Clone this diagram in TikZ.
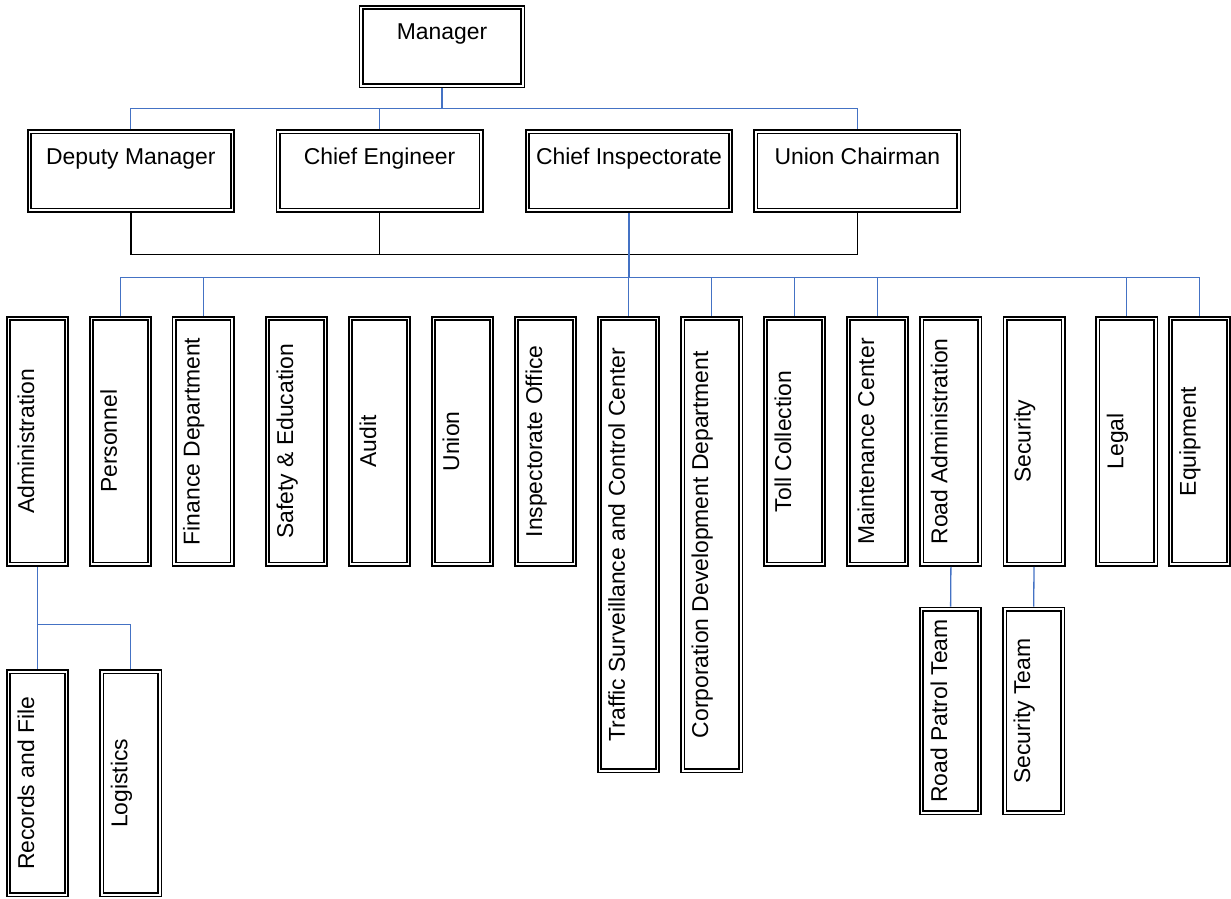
\documentclass[tikz,border=0pt]{standalone}
\usepackage{fontspec}
\setmainfont{Liberation Sans}
\usepackage{tikz}
\usepackage{xcolor}
\definecolor{orgblue}{RGB}{68,114,196}

\begin{document}
\begin{tikzpicture}[x=1pt, y=-1pt,
    unitbox/.style={draw, double, line width=1.7pt, double distance=1.6pt,
        inner sep=0pt, outer sep=2.5pt, font=\fontsize{22.9pt}{27pt}\selectfont},
    hbox/.style={unitbox, text height=32.5pt, text depth=46pt},
    vbox/.style={unitbox, rotate=90, text height=25.5pt, text depth=32.5pt},
    blueline/.style={draw=orgblue, line width=1.3pt},
    blackline/.style={draw=black, line width=1.5pt}]
    \useasboundingbox (0,0) rectangle (1231,899);

    % Draw the top boxes
    \node[hbox, minimum width=161.6pt] (mgr) at (442,46.7) {Manager};
    \node[hbox, minimum width=203pt] (dep) at (130.8,171) {Deputy Manager};
    \node[hbox, minimum width=203pt] (eng) at (379.6,171) {Chief Engineer};
    \node[hbox, minimum width=203pt] (insp) at (629,171) {Chief Inspectorate};
    \node[hbox, minimum width=203pt] (chair) at (857.3,171) {Union Chairman};

    % Draw the departments
    \foreach \n/\x/\t in {admin/37.5/Administration, pers/120.4/Personnel,
        fin/203.2/Finance Department, safety/296.6/Safety \& Education,
        audit/379.6/Audit, union/462.6/Union, inspoff/545.6/Inspectorate Office,
        toll/794.6/Toll Collection, maint/877.5/Maintenance Center,
        roadadm/950.9/Road Administration, secur/1034/Security,
        legal/1126.8/Legal, equip/1199.4/Equipment}
        \node[vbox, minimum width=245.7pt] (\n) at (\x,441.4) {\t};
    \node[vbox, minimum width=452.3pt] (traffic) at (628.3,544.6) {Traffic Surveillance and Control Center};
    \node[vbox, minimum width=452.3pt] (corp) at (711.7,544.6) {Corporation Development Department};

    % Draw the sub units
    \node[vbox, minimum width=223pt] (records) at (37.5,783.3) {Records and File};
    \node[vbox, minimum width=223pt] (logis) at (130.8,783.3) {Logistics};
    \node[vbox, minimum width=203.6pt] (patrol) at (950.6,711) {Road Patrol Team};
    \node[vbox, minimum width=203.6pt] (secteam) at (1033.7,711) {Security Team};

    % Add the connectors
    \coordinate (top) at (0,108.5);
    \coordinate (tie) at (0,254.3);
    \coordinate (bus) at (0,277.3);
    \coordinate (split) at (0,624.3);
    \draw[blueline] (mgr.south) -- (mgr.south |- top);
    \draw[blueline] (dep.north) |- (chair.north |- top) -- (chair.north);
    \draw[blueline] (eng.north) -- (eng.north |- top);
    \draw[blackline] (dep.south) -- (dep.south |- tie) -- (chair.south |- tie) -- (chair.south);
    \draw[blackline] (eng.south) -- (eng.south |- tie);
    \draw[blueline, line width=2pt] (insp.south) -- (insp.south |- bus);
    \draw[blueline, line width=1.6pt] (pers.east) |- (equip.east |- bus) -- (equip.east);
    \foreach \n in {fin, traffic, corp, toll, maint, legal}
        \draw[blueline] (\n.east) -- (\n.east |- bus);
    \draw[blueline] (admin.west) -- (records.east);
    \draw[blueline] (admin.west |- split) -| (logis.east);
    \draw[blueline] (roadadm.west) -- (patrol.east);
    \draw[blueline] (secur.west) -- (secteam.east);
\end{tikzpicture}
\end{document}
